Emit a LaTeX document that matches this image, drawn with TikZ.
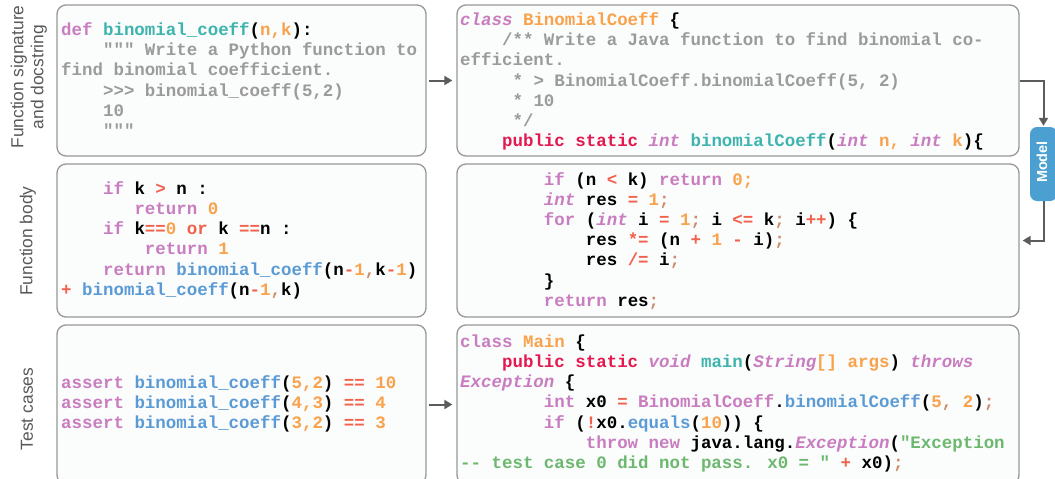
\documentclass[tikz,border=0pt]{standalone}
\usepackage{fontspec}
\usetikzlibrary{arrows.meta}
\newfontfamily\codefont{Liberation Mono}
\newfontfamily\labfont{Liberation Sans}
\definecolor{cpink}{HTML}{C97DC0}
\definecolor{cteal}{HTML}{3EB4AE}
\definecolor{corange}{HTML}{F8A24C}
\definecolor{cgray}{HTML}{9B9B9B}
\definecolor{cred}{HTML}{F2614C}
\definecolor{cblue}{HTML}{5B9BD5}
\definecolor{ccrim}{HTML}{E3194F}
\definecolor{cgreen}{HTML}{6BB86E}
\definecolor{cpunc}{HTML}{CF8A6A}
\definecolor{labgray}{HTML}{595959}
\definecolor{arrgray}{HTML}{5C5C5C}
\definecolor{boxborder}{HTML}{979797}
\definecolor{boxfill}{HTML}{FBFCFC}
\definecolor{modelblue}{HTML}{4BA0D1}
\newcommand\ind[1]{\hspace*{#1\fontcharwd\font`0}}
\newcommand\Pk[1]{\textcolor{cpink}{#1}}
\newcommand\PI[1]{\textcolor{cpink}{\itshape #1}}
\newcommand\Te[1]{\textcolor{cteal}{#1}}
\newcommand\Or[1]{\textcolor{corange}{#1}}
\newcommand\Gy[1]{\textcolor{cgray}{#1}}
\newcommand\Rd[1]{\textcolor{cred}{#1}}
\newcommand\Bl[1]{\textcolor{cblue}{#1}}
\newcommand\Cr[1]{\textcolor{ccrim}{#1}}
\newcommand\Gr[1]{\textcolor{cgreen}{#1}}
\newcommand\Pu[1]{\textcolor{cpunc}{#1}}
\newcommand\Q{\textquotedbl}
\newcommand\codeln[4]{\node[code] (#1) at (#2,#3) {#4};}
\tikzset{
  code/.style={anchor=base west, inner sep=0pt, text=black,
    font=\codefont\bfseries\fontsize{17.45}{20.2}\selectfont},
  box/.style={draw=boxborder, line width=1.3pt, fill=boxfill, rounded corners=9pt,
    inner sep=0pt},
  lab/.style={rotate=90, align=center, inner sep=0pt, text=labgray,
    font=\labfont\fontsize{17.4}{20}\selectfont},
  arr/.style={draw=arrgray, line width=2pt, -{Triangle[length=8pt,width=9pt]}},
  modelbox/.style={fill=modelblue, rounded corners=7pt, inner sep=0pt,
    minimum width=27pt, minimum height=74pt},
}
\begin{document}
\begin{tikzpicture}[x=1pt,y=1pt]
\useasboundingbox (0,0) rectangle (1055,-479);
\clip (0,0) rectangle (1055,-479);
% boxes
\node[box, minimum width=369pt, minimum height=151pt] (btl) at (241.5,-80.5) {};
\node[box, minimum width=369pt, minimum height=153pt] (bml) at (241.5,-240.5) {};
\node[box, minimum width=369pt, minimum height=159pt] (bbl) at (241.5,-404.5) {};
\node[box, minimum width=562pt, minimum height=151pt] (btr) at (738,-80.5) {};
\node[box, minimum width=562pt, minimum height=153pt] (bmr) at (738,-240.5) {};
\node[box, minimum width=562pt, minimum height=159pt] (bbr) at (738,-404.5) {};
\node[modelbox] (model) at (1043.5,-164) {};
\node[rotate=90, text=white, inner sep=0pt, font=\labfont\bfseries\fontsize{14.5}{15}\selectfont] (modeltxt) at (1042,-162) {Model};
% labels
\node[lab] (lsig) at (29,-77) {Function signature\\and docstring};
\node[lab] (lbody) at (28,-241) {Function body};
\node[lab] (ltest) at (27,-409) {Test cases};
% top left
\codeln{tl1}{61}{-35.5}{\Pk{def} \Te{binomial\_coeff}(\Or{n,k}):}
\codeln{tl2}{61}{-55.7}{\ind{4}\Gy{\Q\Q\Q{} Write a Python function to}}
\codeln{tl3}{61}{-75.9}{\Gy{find binomial coefficient.}}
\codeln{tl4}{61}{-96.1}{\ind{4}\Gy{>>> binomial\_coeff(5,2)}}
\codeln{tl5}{61}{-116.3}{\ind{4}\Gy{10}}
\codeln{tl6}{61}{-136.5}{\ind{4}\Gy{\Q\Q\Q}}
% top right
\codeln{tr1}{460}{-25.5}{\PI{class} \Or{BinomialCoeff} \{}
\codeln{tr2}{460}{-45.7}{\ind{4}\Gy{/** Write a Java function to find binomial co-}}
\codeln{tr3}{460}{-65.9}{\Gy{efficient.}}
\codeln{tr4}{460}{-86.1}{\ind{5}\Gy{* > BinomialCoeff.binomialCoeff(5, 2)}}
\codeln{tr5}{460}{-106.3}{\ind{5}\Gy{* 10}}
\codeln{tr6}{460}{-126.5}{\ind{5}\Gy{*/}}
\codeln{tr7}{460}{-146.7}{\ind{4}\Cr{public static} \PI{int} \Te{binomialCoeff}(\PI{int} \Or{n,} \PI{int} \Or{k})\{}
% middle left
\codeln{ml1}{61}{-194.3}{\ind{4}\Pk{if} k \Rd{>} n :}
\codeln{ml2}{61}{-214.5}{\ind{7}\Pk{return} \Or{0}}
\codeln{ml3}{61}{-234.7}{\ind{4}\Pk{if} k\Rd{==}\Or{0} \Rd{or} k \Rd{==}n :}
\codeln{ml4}{61}{-254.9}{\ind{8}\Pk{return} \Or{1}}
\codeln{ml5}{61}{-275.1}{\ind{4}\Pk{return} \Bl{binomial\_coeff}(n\Rd{-}\Or{1}\Pu{,}k\Rd{-}\Or{1})}
\codeln{ml6}{61}{-295.3}{\Rd{+} \Bl{binomial\_coeff}(n\Rd{-}\Or{1}\Pu{,}k)}
% middle right
\codeln{mr1}{460}{-185}{\ind{8}\Pk{if} (n \Rd{<} k) \Pk{return} \Or{0;}}
\codeln{mr2}{460}{-205.2}{\ind{8}\PI{int} res \Rd{=} \Or{1}\Pu{;}}
\codeln{mr3}{460}{-225.4}{\ind{8}\Pk{for} (\PI{int} i \Rd{=} \Or{1}\Pu{;} i \Rd{<=} k\Pu{;} i\Rd{++}) \{}
\codeln{mr4}{460}{-245.6}{\ind{12}res \Rd{*=} (n \Rd{+} \Or{1} \Rd{-} i)\Pu{;}}
\codeln{mr5}{460}{-265.8}{\ind{12}res \Rd{/=} i\Pu{;}}
\codeln{mr6}{460}{-286}{\ind{8}\}}
\codeln{mr7}{460}{-306.2}{\ind{8}\Pk{return} res\Pu{;}}
% bottom left
\codeln{bl1}{61}{-388.3}{\Pk{assert} \Bl{binomial\_coeff}(\Or{5,2}) \Rd{==} \Or{10}}
\codeln{bl2}{61}{-408.5}{\Pk{assert} \Bl{binomial\_coeff}(\Or{4,3}) \Rd{==} \Or{4}}
\codeln{bl3}{61}{-428.7}{\Pk{assert} \Bl{binomial\_coeff}(\Or{3,2}) \Rd{==} \Or{3}}
% bottom right
\codeln{br1}{460}{-347.3}{\Pk{class} \Or{Main} \{}
\codeln{br2}{460}{-367.5}{\ind{4}\Cr{public static} \PI{void} \Te{main}(\PI{String}\Or{[]} \Or{args}) \PI{throws}}
\codeln{br3}{460}{-387.7}{\PI{Exception} \{}
\codeln{br4}{460}{-407.9}{\ind{8}\Pk{int} x0 \Rd{=} \Pk{BinomialCoeff}.\Bl{binomialCoeff}(\Or{5}\Pu{,} \Or{2})\Pu{;}}
\codeln{br5}{460}{-428.1}{\ind{8}\Pk{if} (\Rd{!}x0.\Bl{equals}(\Or{10})) \{}
\codeln{br6}{460}{-448.3}{\ind{12}\Pk{throw new} java.lang.\PI{Exception}(\Gr{\Q Exception}}
\codeln{br7}{460}{-468.5}{\Gr{-{}- test case 0 did not pass. x0 = \Q} \Rd{+} x0)\Pu{;}}
% connectors
\draw[arr, shorten <=2pt, shorten >=4pt] (btl.east) -- (btr.west);
\draw[arr, shorten <=2pt, shorten >=4pt] (bbl.east) -- (bbr.west);
\draw[arr, shorten >=1pt] (btr.east) -| (model.north);
\draw[arr, shorten >=3pt] (model.south) |- (bmr.east);
\end{tikzpicture}
\end{document}
